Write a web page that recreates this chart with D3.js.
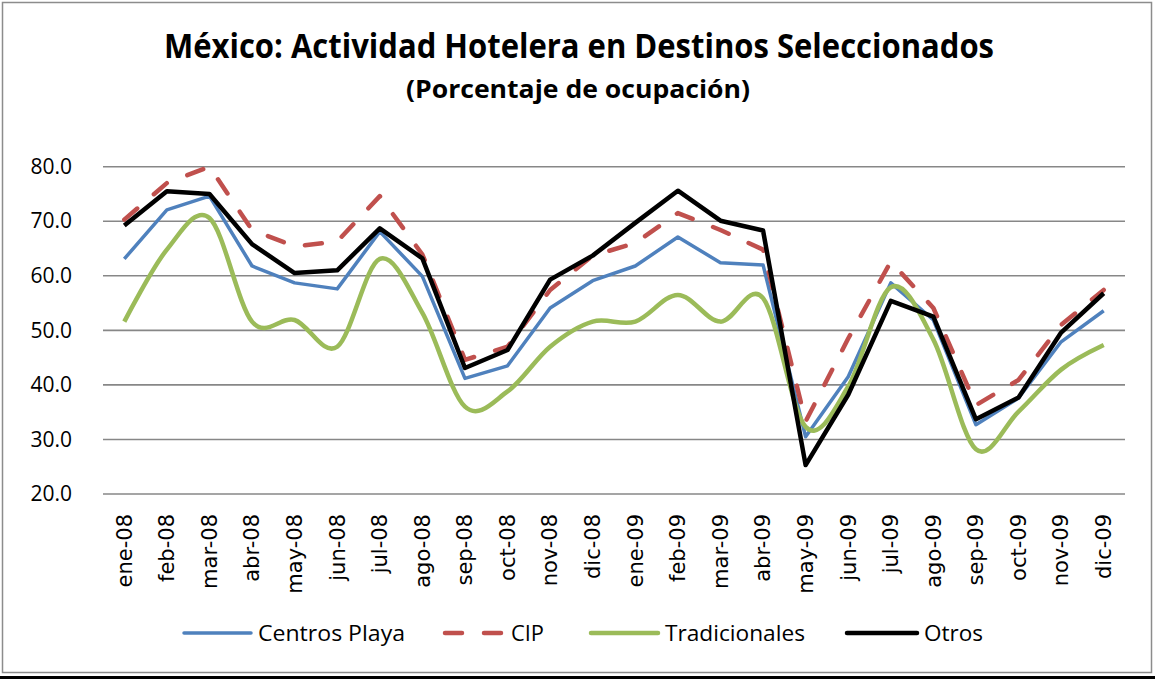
<!DOCTYPE html>
<html>
<head>
<meta charset="utf-8">
<script src="https://cdn.jsdelivr.net/npm/d3@7"></script>
<style>
  body { margin: 0; background: #fff; }
  .title { font-family: "Open Sans", sans-serif; font-weight: bold; }
  .ytick text { font-family: "Open Sans", sans-serif; font-size: 21px; }
  .xtick text { font-family: "DejaVu Sans", sans-serif; font-size: 21px; }
  .legend text { font-family: "Open Sans", sans-serif; font-size: 22px; }
</style>
</head>
<body>
<svg id="chart" width="1155" height="679"></svg>
<script>
// values
const months = ["ene-08","feb-08","mar-08","abr-08","may-08","jun-08","jul-08","ago-08","sep-08","oct-08","nov-08","dic-08",
                "ene-09","feb-09","mar-09","abr-09","may-09","jun-09","jul-09","ago-09","sep-09","oct-09","nov-09","dic-09"];
const centrosPlaya = [63.1,72.1,74.6,61.8,58.7,57.6,68.1,59.9,41.2,43.5,54.1,59.1,61.8,67.1,62.4,62.0,30.5,41.5,58.7,51.9,32.7,37.6,47.9,53.6];
const cip = [70.3,77.0,80.0,68.4,65.4,66.3,74.6,63.9,44.6,47.0,57.4,63.7,66.0,71.5,68.4,64.8,33.3,48.5,62.6,54.1,36.3,40.9,51.0,57.4];
const tradicionales = [51.6,64.8,70.6,51.6,51.9,47.0,63.1,53.2,36.0,38.8,47.0,51.6,51.6,56.5,51.6,55.9,32.3,39.7,57.9,48.3,28.2,35.1,42.8,47.3];
const otros = [69.2,75.5,75.0,65.8,60.5,61.0,68.7,63.2,43.1,46.4,59.3,63.7,69.7,75.6,70.1,68.3,25.3,38.2,55.4,52.5,33.7,37.7,49.6,56.8];
const yTicks = [20,30,40,50,60,70,80];

const titleText = "México: Actividad Hotelera en Destinos Seleccionados";
const subtitleText = "(Porcentaje de ocupación)";

const series = [
  {name: "Centros Playa", values: centrosPlaya, color: "#4F81BD", width: 3.5, dash: null, smooth: false},
  {name: "CIP", values: cip, color: "#C0504D", width: 4.5, dash: "17,22", smooth: false},
  {name: "Tradicionales", values: tradicionales, color: "#9BBB59", width: 4.5, dash: null, smooth: true},
  {name: "Otros", values: otros, color: "#000000", width: 4.5, dash: null, smooth: false}
];

const svg = d3.select("svg#chart");
const plotLeft = 103, plotRight = 1125, plotTop = 166.7, plotBottom = 494;

// outer frame
svg.append("rect")
  .attr("x", 2.5).attr("y", 2.5)
  .attr("width", 1149).attr("height", 670)
  .attr("fill", "#fff")
  .attr("stroke", "#8c8c8c")
  .attr("stroke-width", 1.5);
svg.append("rect")
  .attr("x", 0).attr("y", 676)
  .attr("width", 1155).attr("height", 3)
  .attr("fill", "#000");

// titles
svg.append("text")
  .attr("class", "title")
  .attr("x", 579).attr("y", 58)
  .attr("text-anchor", "middle")
  .attr("font-size", 34)
  .attr("textLength", 830)
  .attr("lengthAdjust", "spacingAndGlyphs")
  .text(titleText);
svg.append("text")
  .attr("class", "title")
  .attr("x", 578).attr("y", 98)
  .attr("text-anchor", "middle")
  .attr("font-size", 25)
  .attr("textLength", 344)
  .attr("lengthAdjust", "spacingAndGlyphs")
  .text(subtitleText);

const x = d3.scaleBand().domain(months).range([plotLeft, plotRight]);
const y = d3.scaleLinear().domain([20, 80]).range([plotBottom, plotTop]);

// gridlines
svg.append("g")
  .selectAll("line")
  .data(yTicks)
  .join("line")
  .attr("x1", plotLeft).attr("x2", plotRight)
  .attr("y1", d => y(d)).attr("y2", d => y(d))
  .attr("stroke", "#878787")
  .attr("stroke-width", 1.6);

// y axis labels
const yAxis = d3.axisLeft(y).tickValues(yTicks).tickFormat(d3.format(".1f")).tickSize(0).tickPadding(0);
const yg = svg.append("g").attr("class", "ytick")
  .attr("transform", `translate(${plotLeft - 31},0)`).call(yAxis);
yg.select(".domain").remove();
yg.selectAll("text").attr("fill", "#000");

// x axis labels, rotated
const xAxis = d3.axisBottom(x).tickSize(0).tickPadding(0);
const xg = svg.append("g").attr("class", "xtick")
  .attr("transform", `translate(0,${plotBottom})`).call(xAxis);
xg.select(".domain").remove();
xg.selectAll("text")
  .attr("fill", "#000")
  .attr("text-anchor", "end")
  .attr("transform", "rotate(-90)")
  .attr("x", -20)
  .attr("y", 0)
  .attr("dy", "0.35em");

// series lines
const cx = (d, i) => x(months[i]) + x.bandwidth() / 2;
series.forEach(s => {
  const line = d3.line()
    .x(cx)
    .y(d => y(d))
    .curve(s.smooth ? d3.curveCatmullRom.alpha(0) : d3.curveLinear);
  svg.append("path")
    .datum(s.values)
    .attr("d", line)
    .attr("fill", "none")
    .attr("stroke", s.color)
    .attr("stroke-width", s.width)
    .attr("stroke-linejoin", "round")
    .attr("stroke-linecap", s.dash ? "round" : "butt")
    .attr("stroke-dasharray", s.dash);
});

// legend
const legendX = [184, 443, 591, 847];
const legendText = [147, 33, 140, 59];
const legendY = 633;
const lg = svg.append("g").attr("class", "legend");
series.forEach((s, i) => {
  const x0 = legendX[i];
  const lineLen = i === 1 ? 61 : (i === 3 ? 70 : 67);
  lg.append("line")
    .attr("x1", x0 + (s.dash ? 2 : 0)).attr("x2", x0 + lineLen - (s.dash ? 2 : 0))
    .attr("y1", legendY).attr("y2", legendY)
    .attr("stroke", s.color)
    .attr("stroke-width", s.width)
    .attr("stroke-linecap", "round")
    .attr("stroke-dasharray", s.dash);
  lg.append("text")
    .attr("x", x0 + lineLen + 7)
    .attr("y", legendY)
    .attr("dy", "0.35em")
    .attr("fill", "#000")
    .attr("textLength", legendText[i])
    .attr("lengthAdjust", "spacingAndGlyphs")
    .text(s.name);
});
</script>
</body>
</html>
